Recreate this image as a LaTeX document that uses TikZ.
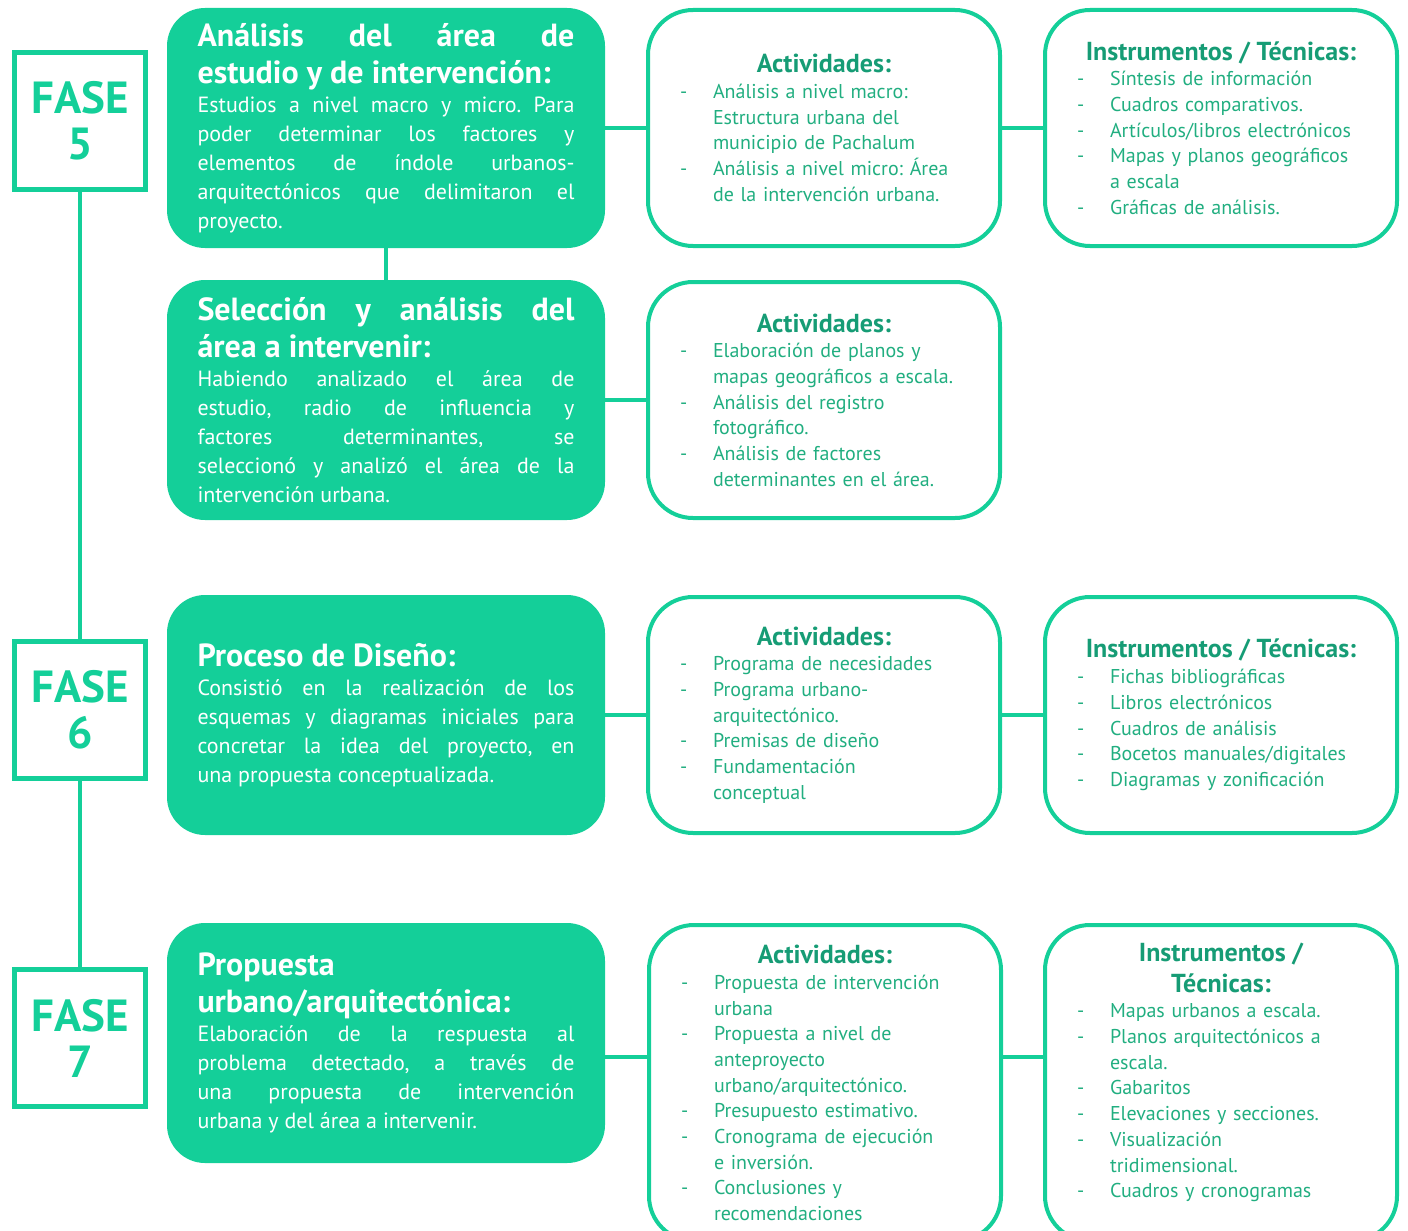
\documentclass[tikz,border=0pt]{standalone}
\usepackage{fontspec}
\setmainfont{PT Sans}
\usetikzlibrary{positioning}
\frenchspacing

\definecolor{verde}{HTML}{14CF99}
\definecolor{verdeosc}{HTML}{169C75}
\definecolor{verdetxt}{HTML}{21AE80}

\newcommand{\titulo}[1]{{\centering\bfseries\fontsize{26}{31}\selectfont\noindent\color{verdeosc}#1\par}}
\newcommand{\guion}{\par\hangindent=33pt\hangafter=1\noindent\makebox[33pt][l]{-}}
\newcommand{\encabezado}[1]{{\bfseries\fontsize{32}{37}\selectfont #1\par}}

\tikzset{
	fase/.style={draw=verde, line width=5pt, minimum width=131pt, minimum height=137pt, text=verde, font=\bfseries\fontsize{45}{46}\selectfont, align=center},
	paso/.style={fill=verde, rounded corners=38pt, minimum width=438pt, minimum height=240pt, inner sep=0pt, text width=377pt, align=justify, text=white, font=\fontsize{22}{29}\selectfont},
	lista/.style={draw=verde, line width=4pt, rounded corners=45pt, minimum width=352pt, minimum height=236pt, inner sep=0pt, text width=288pt, align=left, text=verdetxt, font=\fontsize{20}{25.7}\selectfont},
	enlace/.style={draw=verde, line width=4pt}
}

\begin{document}
\begin{tikzpicture}[x=1pt, y=-1pt]
	\useasboundingbox (0,0) rectangle (1408,1231);

	\node (1) [fase] at (80,121) {FASE\\5};
	\node (2) [paso] at (386,128) {\encabezado{Análisis del área de\linebreak estudio y de intervención:}Estudios a nivel macro y micro. Para\linebreak poder determinar los factores y\linebreak elementos de índole urbanos-\linebreak arquitectónicos que delimitaron el\linebreak proyecto.\par};
	\node (3) [lista, right of=2, node distance=438pt] {\titulo{Actividades:}
		\guion Análisis a nivel macro:\newline Estructura urbana del\newline municipio de Pachalum
		\guion Análisis a nivel micro: Área\newline de la intervención urbana.\par};
	\node (4) [lista, right of=3, node distance=397pt] {\titulo{\mbox{Instrumentos / Técnicas:}}
		\guion Síntesis de información
		\guion Cuadros comparativos.
		\guion Artículos/libros electrónicos
		\guion Mapas y planos geográficos\newline a escala
		\guion Gráficas de análisis.\par};

	\node (5) [paso, below of=2, node distance=272pt] {\encabezado{Selección y análisis del\linebreak área a intervenir:}Habiendo analizado el área de\linebreak estudio, radio de influencia y\linebreak factores determinantes, se\linebreak seleccionó y analizó el área de la\linebreak intervención urbana.\par};
	\node (6) [lista, right of=5, node distance=438pt] {\titulo{Actividades:}
		\guion Elaboración de planos y\newline mapas geográficos a escala.
		\guion Análisis del registro\newline fotográfico.
		\guion Análisis de factores\newline determinantes en el área.\par};

	\node (7) [fase] at (80,710) {FASE\\6};
	\node (8) [paso, below of=5, node distance=315pt] {\encabezado{Proceso de Diseño:}Consistió en la realización de los\linebreak esquemas y diagramas iniciales para\linebreak concretar la idea del proyecto, en\linebreak una propuesta conceptualizada.\par};
	\node (9) [lista, right of=8, node distance=438pt] {\titulo{Actividades:}
		\guion Programa de necesidades
		\guion Programa urbano-\newline arquitectónico.
		\guion Premisas de diseño
		\guion Fundamentación\newline conceptual\par};
	\node (10) [lista, right of=9, node distance=397pt] {\titulo{\mbox{Instrumentos / Técnicas:}}
		\guion Fichas bibliográficas
		\guion Libros electrónicos
		\guion Cuadros de análisis
		\guion Bocetos manuales/digitales
		\guion Diagramas y zonificación\par};

	\node (11) [fase] at (80,1038) {FASE\\7};
	\node (12) [paso, below of=8, node distance=328pt] {\encabezado{Propuesta\newline urbano/arquitectónica:}Elaboración de la respuesta al\linebreak problema detectado, a través de\linebreak una propuesta de intervención\linebreak urbana y del área a intervenir.\par};
	\node (13) [lista, minimum height=316pt, right of=12, node distance=439pt, yshift=-40pt] {\titulo{Actividades:}
		\guion Propuesta de intervención\newline urbana
		\guion Propuesta a nivel de\newline anteproyecto\newline urbano/arquitectónico.
		\guion Presupuesto estimativo.
		\guion Cronograma de ejecución\newline e inversión.
		\guion Conclusiones y\newline recomendaciones\par};
	\node (14) [lista, minimum height=316pt, right of=13, node distance=396pt] {\titulo{Instrumentos /\\Técnicas:}
		\guion Mapas urbanos a escala.
		\guion Planos arquitectónicos a\newline escala.
		\guion Gabaritos
		\guion Elevaciones y secciones.
		\guion Visualización\newline tridimensional.
		\guion Cuadros y cronogramas
		\par\null};

	\path[enlace]
		(1) edge (7)
		(7) edge (11)
		(2) edge (5)
		(2) edge (3)
		(3) edge (4)
		(5) edge (6)
		(8) edge (9)
		(9) edge (10)
		([yshift=-14pt]12.east) edge ([yshift=26pt]13.west)
		([yshift=26pt]13.east) edge ([yshift=26pt]14.west);
\end{tikzpicture}
\end{document}
